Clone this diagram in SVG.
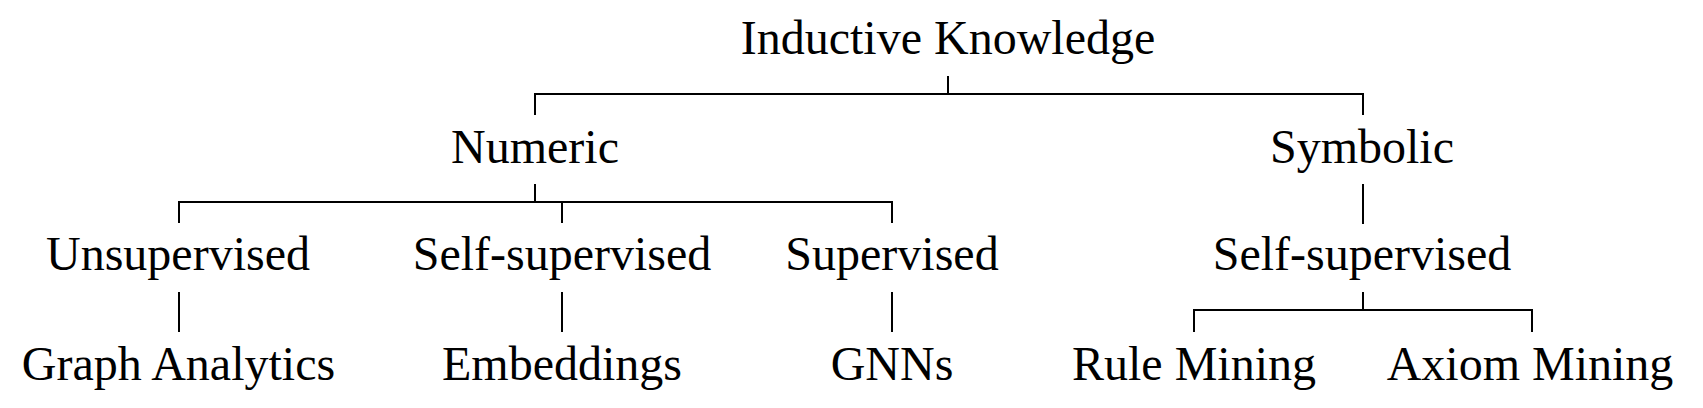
<svg xmlns="http://www.w3.org/2000/svg" width="1703" height="408" viewBox="0 0 1703 408">
<style>
text{font-family:"Liberation Serif","DejaVu Serif",serif;font-size:48px;fill:#000;text-anchor:middle}
.c{stroke:#000;stroke-width:2;fill:none;stroke-linecap:butt}
</style>
<rect width="1703" height="408" fill="#fff"/>
<g id="connectors">
<path class="c" d="M948,76V94M535,115V94H1363V115"/>
<path class="c" d="M535,184V202M179,223V202H892V223M562,202V223"/>
<path class="c" d="M1363,184V224"/>
<path class="c" d="M179,292V332M562,292V332M892,292V332"/>
<path class="c" d="M1363,292V310M1194,332V310H1532V332"/>
</g>
<g id="n-inductive"><text x="948" y="53.5">Inductive Knowledge</text></g>
<g id="n-numeric"><text x="535" y="163">Numeric</text></g>
<g id="n-symbolic"><text x="1362" y="163">Symbolic</text></g>
<g id="n-unsupervised"><text x="178" y="270">Unsupervised</text></g>
<g id="n-selfsup1"><text x="562" y="270">Self-supervised</text></g>
<g id="n-supervised"><text x="892" y="270">Supervised</text></g>
<g id="n-selfsup2"><text x="1362" y="270">Self-supervised</text></g>
<g id="n-graph"><text x="178.5" y="379.5">Graph Analytics</text></g>
<g id="n-embeddings"><text x="562" y="379.5">Embeddings</text></g>
<g id="n-gnns"><text x="892" y="379.5">GNNs</text></g>
<g id="n-rule"><text x="1194" y="379.5">Rule Mining</text></g>
<g id="n-axiom"><text x="1530" y="379.5">Axiom Mining</text></g>
</svg>
